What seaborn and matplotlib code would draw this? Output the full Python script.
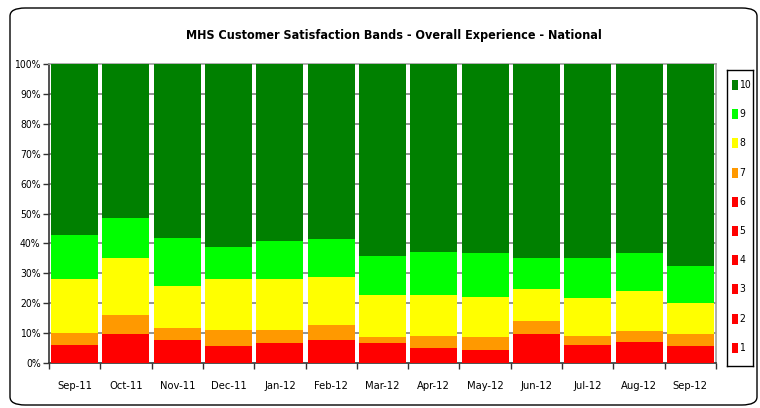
import seaborn as sns
import matplotlib.pyplot as plt
import pandas as pd
from matplotlib.patches import FancyBboxPatch, Rectangle
from matplotlib.ticker import FixedLocator

months = ["Sep-11", "Oct-11", "Nov-11", "Dec-11", "Jan-12", "Feb-12", "Mar-12",
          "Apr-12", "May-12", "Jun-12", "Jul-12", "Aug-12", "Sep-12"]

# share of responses per band (%), bands 1-6 shown together in red
band_1to6 = [6.0, 9.7, 7.6, 5.6, 6.6, 7.6, 6.6, 4.9, 4.2, 9.6, 5.9, 6.9, 5.6]
band_7 = [3.9, 6.5, 4.0, 5.6, 4.6, 5.0, 2.0, 4.0, 4.4, 4.6, 3.0, 3.7, 4.0]
band_8 = [18.3, 19.0, 14.3, 17.0, 17.0, 16.0, 14.3, 13.7, 13.6, 10.7, 13.0, 13.6, 10.6]
band_9 = [14.7, 13.4, 16.0, 10.7, 12.7, 13.0, 13.0, 14.6, 14.7, 10.3, 13.3, 12.7, 12.4]
band_10 = [57.1, 51.4, 58.1, 61.1, 59.1, 58.4, 64.1, 62.8, 63.1, 64.8, 64.8, 63.1, 67.4]

colors = {"10": "#008000", "9": "#00ff00", "8": "#ffff00", "7": "#ff9900", "1-6": "#ff0000"}

sns.set_theme(style="white")
plt.rcParams['font.family'] = ['DejaVu Sans']
plt.rcParams['font.stretch'] = 'condensed'
plt.rcParams['text.color'] = 'black'
plt.rcParams['xtick.color'] = 'black'
plt.rcParams['ytick.color'] = 'black'

df = pd.DataFrame({"month": months, "1-6": band_1to6, "7": band_7, "8": band_8,
                   "9": band_9, "10": band_10})
# cumulative heights, drawn from the top band down so lower bands overlay
order = ["1-6", "7", "8", "9", "10"]
cum = df[order].cumsum(axis=1)

fig = plt.figure(figsize=(7.6, 4.08), dpi=100)
ax = fig.add_axes([49 / 760, 45 / 408, 667 / 760, 299 / 408])

for band in reversed(order):
    sns.barplot(x=df["month"], y=cum[band], color=colors[band], saturation=1,
                width=0.915, ax=ax, linewidth=0)
for p in ax.patches:
    p.set_zorder(3)
    p.set_alpha(1)

# grid lines behind the bars, only visible in the gaps
for v in range(10, 100, 10):
    ax.axhline(v, color="#808080", linewidth=1.2, zorder=0.5)

ax.set_xlim(-0.5, 12.5)
ax.set_ylim(0, 100)
ax.set_yticks(range(0, 101, 10))
ax.set_yticklabels([f"{v}%" for v in range(0, 101, 10)], fontsize=7.5)
ax.grid(False)
ax.set_xlabel("")
ax.set_ylabel("")
ax.tick_params(axis="x", which="major", length=0, labelsize=8, pad=13)
ax.xaxis.set_minor_locator(FixedLocator([i - 0.5 for i in range(14)]))
ax.tick_params(axis="x", which="minor", length=4, width=1, color="#333333", bottom=True)
ax.tick_params(axis="y", length=4, width=1, color="#333333", left=True, pad=2)
for s in ["left", "bottom"]:
    ax.spines[s].set_color("#333333")
    ax.spines[s].set_linewidth(1.2)
for s in ["top", "right"]:
    ax.spines[s].set_color("#a0a0a0")
    ax.spines[s].set_linewidth(1.2)

fig.text(394 / 760, 1 - 35 / 408, "MHS Customer Satisfaction Bands - Overall Experience - National",
         ha="center", va="center", fontsize=9, fontweight="bold")

# legend box on the right
labels = ["10", "9", "8", "7", "6", "5", "4", "3", "2", "1"]
leg_colors = [colors["10"], colors["9"], colors["8"], colors["7"]] + [colors["1-6"]] * 6
lax = fig.add_axes([727 / 760, 1 - 366 / 408, 26 / 760, 296 / 408])
lax.set_xlim(0, 26)
lax.set_ylim(366, 70)
lax.set_xticks([])
lax.set_yticks([])
for s in lax.spines.values():
    s.set_color("black")
    s.set_linewidth(1.0)
for i, (lab, c) in enumerate(zip(labels, leg_colors)):
    yc = 85 + i * 29.2
    lax.add_patch(Rectangle((5, yc - 5), 6, 10, facecolor=c, edgecolor="none"))
    lax.text(12.5, yc, lab, ha="left", va="center", fontsize=7.5)

border = FancyBboxPatch((10 / 760, 3 / 408), 747 / 760, 397 / 408,
                        boxstyle="round,pad=0,rounding_size=0.02", transform=fig.transFigure,
                        facecolor="none", edgecolor="black", linewidth=1.0)
fig.patches.append(border)

fig.savefig("out.png", dpi=100)
